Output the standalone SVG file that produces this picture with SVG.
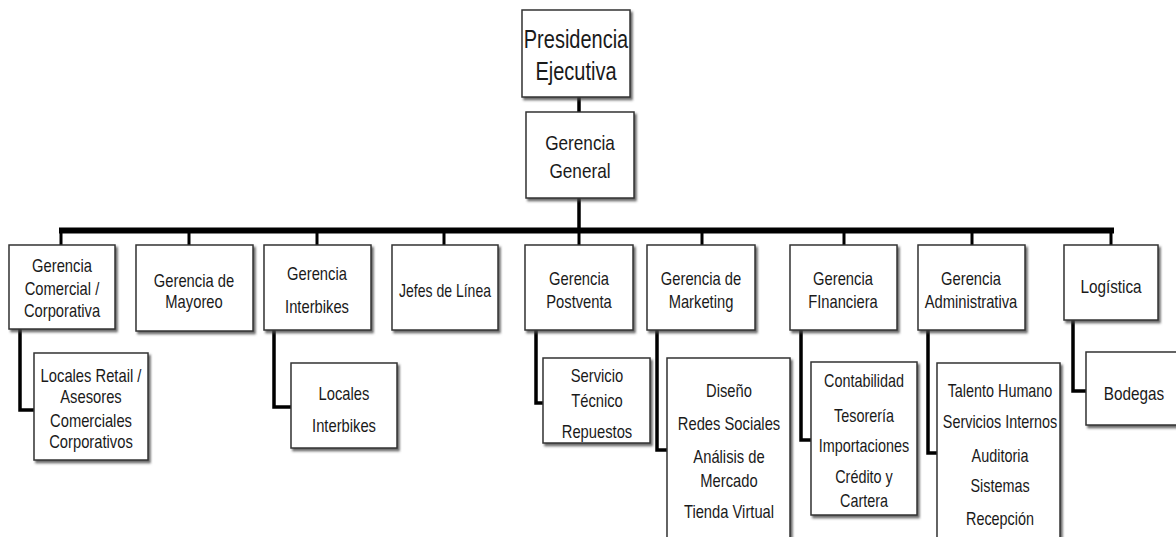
<svg xmlns="http://www.w3.org/2000/svg" width="1176" height="537" viewBox="0 0 1176 537">
<style>
.box{fill:#fff;stroke:#333;stroke-width:1.5;filter:url(#sh)}
.t{font-family:"Liberation Sans",Arial,sans-serif;font-size:18px;fill:#1a1a1a;text-anchor:middle}
.big{font-size:25px}
.mid{font-size:20px}
.c{fill:none;stroke:#000;stroke-width:3.5}
</style>
<defs>
<filter id="sh" x="-10%" y="-10%" width="130%" height="130%">
<feDropShadow dx="2" dy="2.5" stdDeviation="1" flood-color="#444" flood-opacity="0.8"/>
</filter>
</defs>
<rect width="1176" height="537" fill="#fff"/>
<g id="connectors">
<line class="c" x1="579" y1="97" x2="579" y2="112" stroke-width="4"/>
<line class="c" x1="579" y1="198" x2="579" y2="230" stroke-width="4"/>
<line class="c" x1="59" y1="230.5" x2="1114" y2="230.5" style="stroke-width:6"/>
<path class="c" style="stroke-width:3" d="M61 230V245M189 230V245M317 230V245M444 230V245M579 230V245M702 230V245M844 230V245M972 230V245M1111 230V245"/>
<path class="c" d="M20 329V410H34M274 330V407H291M536 330V403H543M657 330V450H667M801 330V440H811M928 330V453H937M1073 320V391H1086"/>
</g>
<g id="presidencia">
<rect class="box" x="522" y="10" width="108" height="87"/>
<g transform="translate(576 0) scale(0.8 1)"><text class="t big" x="0" y="48">Presidencia</text><text class="t big" x="0" y="80">Ejecutiva</text></g>
</g>
<g id="gerencia-general">
<rect class="box" x="526" y="112" width="108" height="86"/>
<g transform="translate(580 0) scale(0.86 1)"><text class="t mid" x="0" y="150">Gerencia</text><text class="t mid" x="0" y="178">General</text></g>
</g>
<g id="comercial">
<rect class="box" x="9" y="245" width="106" height="84"/>
<g transform="translate(62 0) scale(0.82 1)"><text class="t" x="0" y="272">Gerencia</text><text class="t" x="0" y="295">Comercial /</text><text class="t" x="0" y="317">Corporativa</text></g>
</g>
<g id="mayoreo">
<rect class="box" x="136" y="245" width="117" height="86"/>
<g transform="translate(194 0) scale(0.82 1)"><text class="t" x="0" y="287">Gerencia de</text><text class="t" x="0" y="308">Mayoreo</text></g>
</g>
<g id="interbikes">
<rect class="box" x="264" y="245" width="107" height="85"/>
<g transform="translate(317 0) scale(0.82 1)"><text class="t" x="0" y="280">Gerencia</text><text class="t" x="0" y="313">Interbikes</text></g>
</g>
<g id="jefes">
<rect class="box" x="392" y="245" width="106" height="85"/>
<g transform="translate(445 0) scale(0.78 1)"><text class="t" x="0" y="297">Jefes de Línea</text></g>
</g>
<g id="postventa">
<rect class="box" x="525" y="245" width="108" height="85"/>
<g transform="translate(579 0) scale(0.82 1)"><text class="t" x="0" y="285">Gerencia</text><text class="t" x="0" y="308">Postventa</text></g>
</g>
<g id="marketing">
<rect class="box" x="647" y="245" width="108" height="85"/>
<g transform="translate(701 0) scale(0.82 1)"><text class="t" x="0" y="285">Gerencia de</text><text class="t" x="0" y="308">Marketing</text></g>
</g>
<g id="financiera">
<rect class="box" x="790" y="245" width="107" height="85"/>
<g transform="translate(843 0) scale(0.82 1)"><text class="t" x="0" y="285">Gerencia</text><text class="t" x="0" y="308">FInanciera</text></g>
</g>
<g id="administrativa">
<rect class="box" x="918" y="245" width="107" height="85"/>
<g transform="translate(971 0) scale(0.82 1)"><text class="t" x="0" y="285">Gerencia</text><text class="t" x="0" y="308">Administrativa</text></g>
</g>
<g id="logistica">
<rect class="box" x="1064" y="245" width="94" height="75"/>
<g transform="translate(1111 0) scale(0.85 1)"><text class="t" x="0" y="293">Logística</text></g>
</g>
<g id="locales-retail">
<rect class="box" x="34" y="353" width="114" height="107"/>
<g transform="translate(91 0) scale(0.82 1)"><text class="t" x="0" y="382">Locales Retail /</text><text class="t" x="0" y="403">Asesores</text><text class="t" x="0" y="427">Comerciales</text><text class="t" x="0" y="448">Corporativos</text></g>
</g>
<g id="locales-interbikes">
<rect class="box" x="291" y="363" width="106" height="85"/>
<g transform="translate(344 0) scale(0.82 1)"><text class="t" x="0" y="400">Locales</text><text class="t" x="0" y="432">Interbikes</text></g>
</g>
<g id="servicio">
<rect class="box" x="543" y="358" width="107" height="85"/>
<g transform="translate(597 0) scale(0.82 1)"><text class="t" x="0" y="382">Servicio</text><text class="t" x="0" y="407">Técnico</text><text class="t" x="0" y="438">Repuestos</text></g>
</g>
<g id="marketing-areas">
<rect class="box" x="667" y="358" width="123" height="190"/>
<g transform="translate(729 0) scale(0.82 1)"><text class="t" x="0" y="397">Diseño</text><text class="t" x="0" y="430">Redes Sociales</text><text class="t" x="0" y="463">Análisis de</text><text class="t" x="0" y="487">Mercado</text><text class="t" x="0" y="518">Tienda Virtual</text></g>
</g>
<g id="finanzas-areas">
<rect class="box" x="811" y="362" width="106" height="153"/>
<g transform="translate(864 0) scale(0.8 1)"><text class="t" x="0" y="387">Contabilidad</text><text class="t" x="0" y="422">Tesorería</text><text class="t" x="0" y="452">Importaciones</text><text class="t" x="0" y="483">Crédito y</text><text class="t" x="0" y="507">Cartera</text></g>
</g>
<g id="admin-areas">
<rect class="box" x="937" y="363" width="123" height="185"/>
<g transform="translate(1000 0) scale(0.8 1)"><text class="t" x="0" y="397">Talento Humano</text><text class="t" x="0" y="428">Servicios Internos</text><text class="t" x="0" y="462">Auditoria</text><text class="t" x="0" y="492">Sistemas</text><text class="t" x="0" y="525">Recepción</text></g>
</g>
<g id="bodegas">
<rect class="box" x="1086" y="352" width="100" height="73"/>
<g transform="translate(1134 0) scale(0.85 1)"><text class="t" x="0" y="400">Bodegas</text></g>
</g>
</svg>
